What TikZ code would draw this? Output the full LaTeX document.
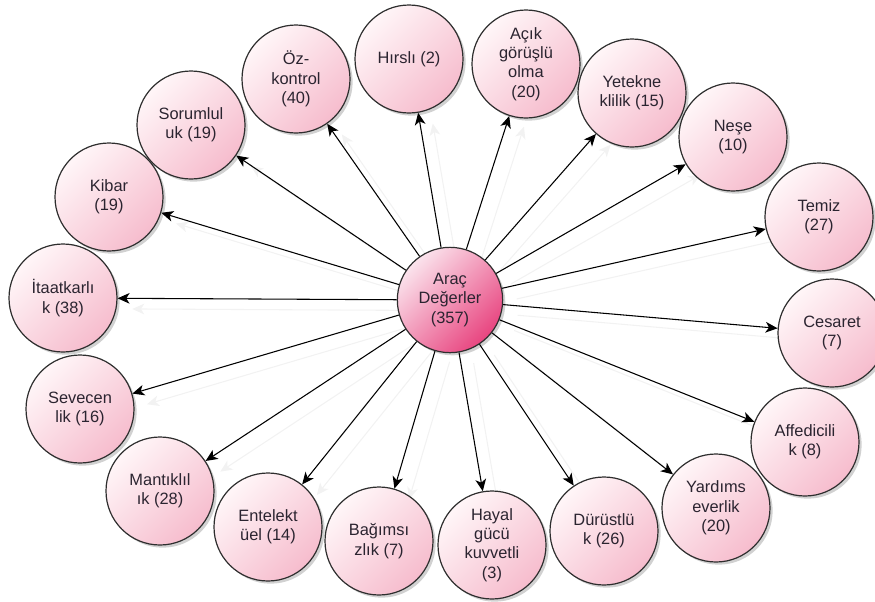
\documentclass[tikz,border=0pt]{standalone}
\usepackage{fontspec}
\setmainfont{Liberation Sans}
\usetikzlibrary{arrows.meta,shadows,backgrounds}
\definecolor{rosa}{HTML}{FFF6F8}
\definecolor{rosb}{HTML}{F6BCCD}
\definecolor{rosc}{HTML}{FBE4ED}
\definecolor{rosd}{HTML}{E8447F}
\definecolor{kenar}{HTML}{2E2E2E}
\definecolor{yazi}{HTML}{2B2430}
\tikzset{
	deger/.style={circle,draw=kenar,line width=0.9pt,minimum size=81pt,inner sep=0pt,
		top color=rosa,bottom color=rosb,shading angle=45,text=yazi,align=center,
		font=\fontsize{12.3}{14.6}\selectfont,
		drop shadow={shadow xshift=2pt,shadow yshift=-2pt,opacity=0.18,fill=black}},
	merkez/.style={deger,minimum size=79pt,top color=rosc,bottom color=rosd,shading angle=45},
	ok/.style={->,line width=0.8pt,black},
	golge/.style={->,line width=0.8pt,black!5}
}
\begin{document}
\begin{tikzpicture}[>={Stealth[length=9pt,width=8pt,inset=2.5pt]},x=0.75pt,y=-0.75pt]
			\useasboundingbox (0,0) rectangle (875,601);
			% merkez
			\node[merkez] (c) at (450,300) {Araç\\Değerler\\(357)};
			% degerler, saat yonunde
			\node[deger] (hirsli) at (409,59) {Hırslı (2)};
			\node[deger] (acik) at (526,64) {Açık\\görüşlü\\olma\\(20)};
			\node[deger] (yet) at (632,93) {Yetekne\\klilik (15)};
			\node[deger] (nese) at (733,137) {Neşe\\(10)};
			\node[deger] (temiz) at (819,217) {Temiz\\(27)};
			\node[deger] (ces) at (832,333) {Cesaret\\(7)};
			\node[deger] (aff) at (805,442) {Affedicili\\k (8)};
			\node[deger] (yar) at (716,508) {Yardıms\\everlik\\(20)};
			\node[deger] (dur) at (604,531) {Dürüstlü\\k (26)};
			\node[deger] (hay) at (492,545) {Hayal\\gücü\\kuvvetli\\(3)};
			\node[deger] (bag) at (379,541) {Bağımsı\\zlık (7)};
			\node[deger] (ent) at (268,527) {Entelekt\\üel (14)};
			\node[deger] (man) at (160,491) {Mantıklıl\\ık (28)};
			\node[deger] (sev) at (80,409) {Sevecen\\lik (16)};
			\node[deger] (ita) at (63,298) {İtaatkarlı\\k (38)};
			\node[deger] (kib) at (109,197) {Kibar\\(19)};
			\node[deger] (sor) at (191,125) {Sorumlul\\uk (19)};
			\node[deger] (oz) at (296,79) {Öz-\\kontrol\\(40)};
			\begin{scope}[on background layer]
				\foreach \n in {hirsli,acik,yet,nese,temiz,ces,aff,yar,dur,hay,bag,ent,man,sev,ita,kib,sor,oz}
					\draw[golge,transform canvas={shift={(11pt,-8pt)}}] (c) -- (\n);
			\end{scope}
			\foreach \n in {hirsli,acik,yet,nese,temiz,ces,aff,yar,dur,hay,bag,ent,man,sev,ita,kib,sor,oz}
				\draw[ok] (c) -- (\n);
		\end{tikzpicture}
\end{document}
